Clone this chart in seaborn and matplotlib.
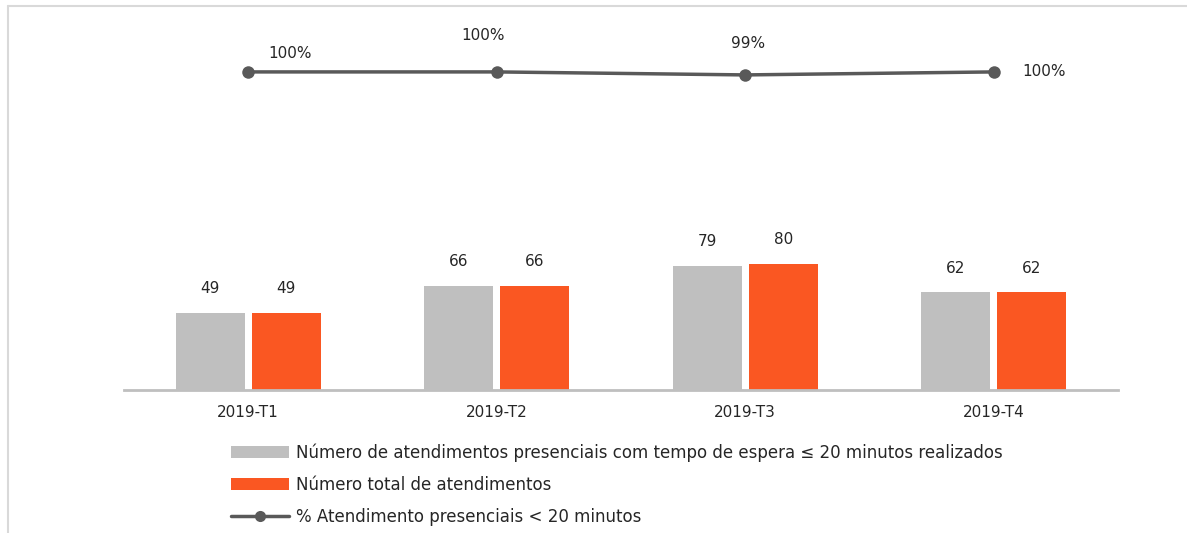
import pandas as pd
import seaborn as sns
import matplotlib.pyplot as plt
from matplotlib.patches import Patch
from matplotlib.lines import Line2D


quarters = ["2019-T1", "2019-T2", "2019-T3", "2019-T4"]
atend_20min = [49, 66, 79, 62]
atend_total = [49, 66, 80, 62]
pct_20min = [100, 100, 99, 100]

name_a = "Número de atendimentos presenciais com tempo de espera ≤ 20 minutos realizados"
name_b = "Número total de atendimentos"
name_c = "% Atendimento presenciais < 20 minutos"

sns.set_theme(style="white")
plt.rcParams["font.family"] = ["DejaVu Sans"]

df = pd.DataFrame({
    "quarter": quarters * 2,
    "value": atend_20min + atend_total,
    "serie": [name_a] * 4 + [name_b] * 4,
})

gray = "#BFBFBF"
orange = "#FA5722"
line_col = "#595959"

fig = plt.figure(figsize=(11.87, 5.33), dpi=100)
ax = fig.add_axes([124 / 1187, 1 - 390 / 533, 994 / 1187, 370 / 533])

sns.barplot(data=df, x="quarter", y="value", hue="serie",
            palette=[gray, orange], width=0.61, gap=0.09, saturation=1,
            linewidth=0, edgecolor="none", legend=False, ax=ax)
for c in ax.containers:
    ax.bar_label(c, padding=12, fontsize=11, color="#262626")

ax.set_ylim(0, 235)
ax.set_xlim(-0.5, 3.5)
ax.set_xlabel("")
ax.set_ylabel("")
ax.set_yticks([])
ax.tick_params(axis="x", length=0, labelsize=11, pad=11, colors="#262626")
for s in ["top", "right", "left"]:
    ax.spines[s].set_visible(False)
ax.spines["bottom"].set_color(gray)
ax.spines["bottom"].set_linewidth(2)

ax2 = ax.twinx()
sns.lineplot(x=list(range(len(quarters))), y=pct_20min, ax=ax2,
             color=line_col, linewidth=2.5, marker="o", markersize=9,
             markeredgewidth=0)
ax2.set_ylim(-6, 117.3)
ax2.set_yticks([])
ax2.set_ylabel("")
for s in ax2.spines.values():
    s.set_visible(False)

offsets = [(42, 18), (-14, 36), (3, 31), (50, 0)]
for i, (p, off) in enumerate(zip(pct_20min, offsets)):
    ax2.annotate(f"{p}%", (i, p), xytext=off, textcoords="offset pixels",
                 ha="center", va="center", fontsize=11, color="#262626")

handles = [
    Patch(facecolor=gray, edgecolor="none"),
    Patch(facecolor=orange, edgecolor="none"),
    Line2D([0], [0], color=line_col, linewidth=2.5, marker="o",
           markersize=8, markeredgewidth=0),
]
fig.legend(handles, [name_a, name_b, name_c], loc="upper left",
           bbox_to_anchor=(216 / 1187, 1 - 428 / 533), frameon=False,
           fontsize=12, handlelength=3.5, handleheight=0.75,
           labelspacing=0.85, handletextpad=0.4, labelcolor="#262626")

# moldura clara (topo e esquerda)
fig.add_artist(Line2D([8 / 1187, 1], [1 - 6 / 533, 1 - 6 / 533],
                      transform=fig.transFigure, color="#D9D9D9", linewidth=1.5))
fig.add_artist(Line2D([8 / 1187, 8 / 1187], [0, 1 - 6 / 533],
                      transform=fig.transFigure, color="#D9D9D9", linewidth=1.5))

fig.savefig("out.png", dpi=100)
